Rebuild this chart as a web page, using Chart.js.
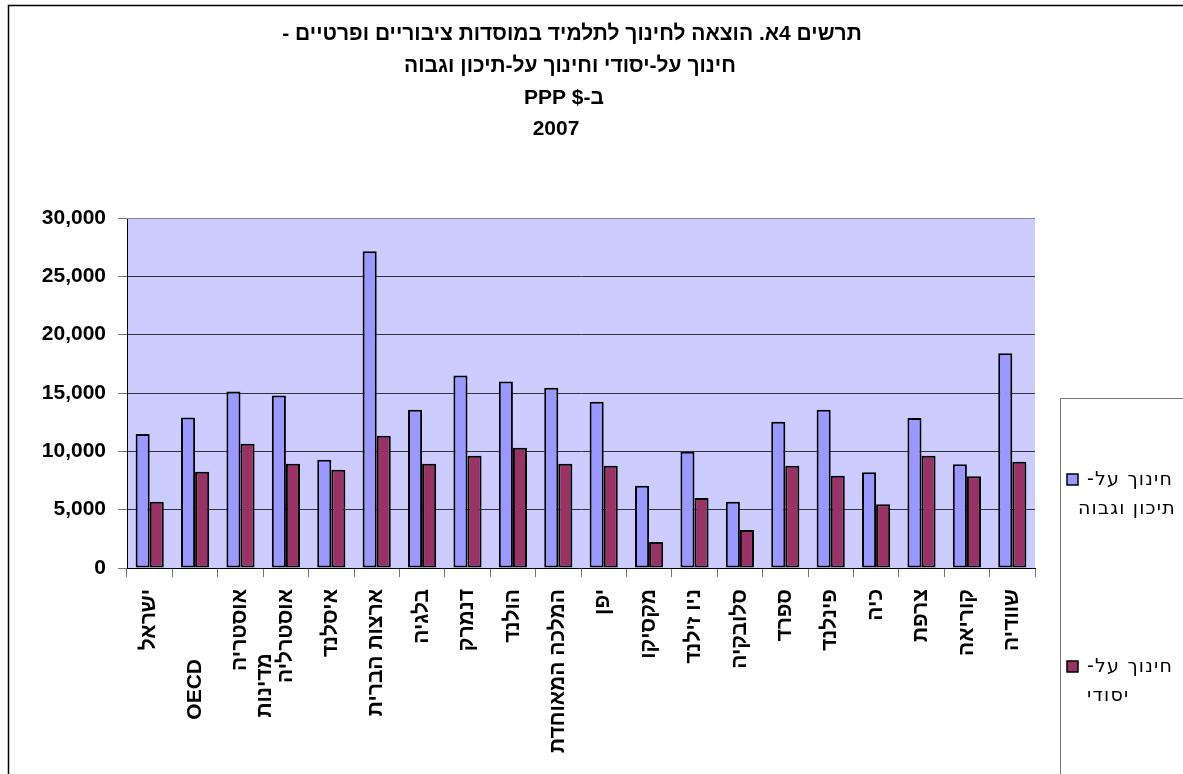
<!DOCTYPE html>
<html>
<head>
<meta charset="utf-8">
<script src="https://cdn.jsdelivr.net/npm/chart.js@4.4.1/dist/chart.umd.min.js"></script>
<style>
  body { margin: 0; background: #fff; }
  #wrap { width: 1183px; height: 774px; position: relative; }
</style>
</head>
<body>
<div id="wrap"><canvas id="chart" width="1183" height="774"></canvas></div>
<script>
// קטגוריות (מדינות)
const countries = ['ישראל', 'OECD' + ' '.repeat(12), ['אוסטריה', 'מדינות' + ' '.repeat(11)], 'אוסטרליה',
  'איסלנד', 'ארצות הברית', 'בלגיה', 'דנמרק', 'הולנד', 'המלכה המאוחדת', 'יפן', 'מקסיקו',
  'ניו זילנד', 'סלובקיה', 'ספרד', 'פינלנד', 'כיה', 'צרפת', 'קוריאה', 'שוודיה'];

// חינוך על-תיכון וגבוה
const higherEd = [11480, 12890, 15120, 14780, 9280, 27150, 13570, 16490, 15980, 15460,
  14260, 7040, 9970, 5670, 12540, 13570, 8210, 12850, 8900, 18400];

// חינוך על-יסודי
const secondaryEd = [5670, 8250, 10650, 8930, 8420, 11340, 8930, 9620, 10310, 8930,
  8760, 2230, 6010, 3260, 8760, 7900, 5460, 9620, 7870, 9110];

const titleLines = ['תרשים 4א. הוצאה לחינוך לתלמיד במוסדות ציבוריים ופרטיים -',
  'חינוך על-יסודי וחינוך על-תיכון וגבוה', 'ב-$ PPP', '2007'];
const legendLabels = [['חינוך על-', 'תיכון וגבוה'], ['חינוך על-', 'יסודי']];

const blue = '#9999FF';
const plum = '#993366';

// רקע אזור הגרף, מסגרת, כותרת ומקרא
const decorPlugin = {
  id: 'decor',
  beforeDraw(chart) {
    const ctx = chart.ctx;
    const a = chart.chartArea;
    ctx.save();
    ctx.fillStyle = '#fff';
    ctx.fillRect(0, 0, chart.width, chart.height);
    ctx.fillStyle = '#CCCCFF';
    ctx.fillRect(a.left, a.top, a.right - a.left, a.bottom - a.top);
    ctx.restore();
  },
  afterDraw(chart) {
    const ctx = chart.ctx;
    const a = chart.chartArea;
    ctx.save();
    // גבול עליון של אזור הגרף
    ctx.strokeStyle = '#888';
    ctx.lineWidth = 1;
    ctx.beginPath();
    ctx.moveTo(a.left, a.top + 0.5);
    ctx.lineTo(a.right, a.top + 0.5);
    ctx.stroke();

    // מסגרת חיצונית
    ctx.strokeStyle = '#000';
    ctx.lineWidth = 1.5;
    ctx.beginPath();
    ctx.moveTo(8.5, 780);
    ctx.lineTo(8.5, 5.5);
    ctx.lineTo(1190, 5.5);
    ctx.stroke();

    // כותרת
    ctx.fillStyle = '#000';
    ctx.font = 'bold 21px "Liberation Sans", Arial, sans-serif';
    ctx.textAlign = 'center';
    ctx.textBaseline = 'middle';
    ctx.direction = 'rtl';
    const ys = [34, 66, 98, 129];
    const xs = [572, 570, 564, 556];
    titleLines.forEach((t, i) => ctx.fillText(t, xs[i], ys[i]));

    // מקרא
    ctx.strokeStyle = '#777';
    ctx.lineWidth = 1;
    ctx.strokeRect(1060.5, 398.5, 200, 400);
    const colors = [blue, plum];
    const sy = [474, 661];
    ctx.font = '19px "DejaVu Sans", sans-serif';
    ctx.letterSpacing = '1.2px';
    colors.forEach((c, i) => {
      ctx.fillStyle = c;
      ctx.fillRect(1067, sy[i], 11, 11);
      ctx.strokeStyle = '#000';
      ctx.lineWidth = 1.5;
      ctx.strokeRect(1067, sy[i], 11, 11);
      ctx.fillStyle = '#000';
      ctx.direction = 'rtl';
      ctx.textAlign = 'left';
      ctx.fillText(legendLabels[i][0], 1087, sy[i] + 6);
      ctx.fillText(legendLabels[i][1], i === 0 ? 1078 : 1087, sy[i] + 35);
    });
    ctx.restore();
  }
};

const ctx = document.getElementById('chart').getContext('2d');
const chart = new Chart(ctx, {
  type: 'bar',
  data: {
    labels: countries,
    datasets: [{
      label: 'חינוך על-תיכון וגבוה',
      data: higherEd,
      backgroundColor: blue,
      borderColor: '#000',
      borderWidth: 2,
      borderSkipped: false
    }, {
      label: 'חינוך על-יסודי',
      data: secondaryEd,
      backgroundColor: plum,
      borderColor: '#000',
      borderWidth: 2,
      borderSkipped: false
    }]
  },
  options: {
    responsive: false,
    animation: false,
    layout: { padding: { left: 8, right: 148, top: 218, bottom: 0 } },
    datasets: { bar: { categoryPercentage: 0.62, barPercentage: 1 } },
    plugins: {
      legend: { display: false },
      title: { display: false },
      tooltip: { enabled: false }
    },
    scales: {
      x: {
        afterFit(scale) { scale.height = 206; },
        grid: { offset: true, drawOnChartArea: false, tickLength: 9, color: '#777' },
        border: { color: '#000' },
        ticks: {
          autoSkip: false,
          minRotation: 90,
          maxRotation: 90,
          padding: 12,
          color: '#000',
          font: { family: '"Liberation Sans", Arial, sans-serif', size: 21, weight: 'bold' }
        }
      },
      y: {
        min: 0,
        max: 30000,
        afterFit(scale) { scale.width = 119; },
        grid: { color: '#333', tickLength: 9, tickColor: '#777' },
        border: { color: '#000' },
        ticks: {
          stepSize: 5000,
          padding: 12,
          color: '#000',
          font: { family: '"Liberation Sans", Arial, sans-serif', size: 21, weight: 'bold' },
          callback: v => v.toLocaleString('en-US')
        }
      }
    }
  },
  plugins: [decorPlugin]
});
</script>
</body>
</html>
